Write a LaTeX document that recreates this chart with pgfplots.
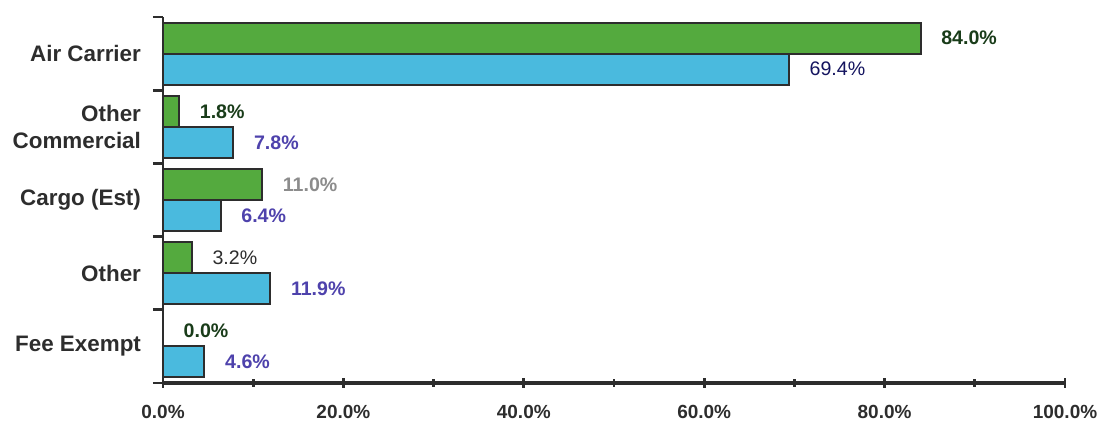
\documentclass[border=0pt]{standalone}
\usepackage{pgfplots}
\pgfplotsset{compat=1.18}
\usepackage{fontspec}
\setmainfont{Liberation Sans}
\definecolor{barg}{RGB}{84,170,62}
\definecolor{barc}{RGB}{74,186,222}
\definecolor{dkg}{RGB}{25,60,25}
\definecolor{navy}{RGB}{20,20,95}
\definecolor{purp}{RGB}{78,66,172}
\definecolor{axc}{RGB}{45,45,45}
\definecolor{lgray}{RGB}{140,140,140}
\begin{document}
\begin{tikzpicture}
\path[use as bounding box] (0,0) rectangle (557.5pt,216pt);
\begin{axis}[
  at={(81.5pt,24.5pt)}, anchor=south west,
  scale only axis, width=451pt, height=183pt,
  xmin=0, xmax=100, ymin=-0.5, ymax=4.5,
  xbar, bar width=15.5pt,
  axis lines*=left,
  x axis line style={axc, line width=2pt},
  y axis line style={axc, line width=1.4pt},
  xtick={0,20,...,100},
  xticklabels={0.0\%,20.0\%,40.0\%,60.0\%,80.0\%,100.0\%},
  minor xtick={10,30,...,90},
  xtick align=center,
  major tick length=5pt, minor tick length=4pt,
  tick style={axc, line width=1.4pt},
  xticklabel style={font=\bfseries\fontsize{9.5}{11}\selectfont, text=axc, yshift=-5pt},
  ytick={-0.5,0.5,...,4.5},
  yticklabels={},
  ytick align=outside,
  extra y ticks={0,1,2,3,4},
  extra y tick labels={Fee Exempt,Other,Cargo (Est),{Other\\Commercial},Air Carrier},
  extra y tick style={tick style={draw=none}},
  yticklabel style={align=right, font=\bfseries\fontsize{11.2}{13.5}\selectfont, text=axc, xshift=-2.5pt},
  point meta=explicit symbolic,
  nodes near coords,
  every node near coord/.append style={font=\bfseries\fontsize{9.8}{11}\selectfont, anchor=west, xshift=6.5pt},
  clip=false,
]
\addplot[fill=barg, draw=axc, line width=1pt, bar shift=7.75pt] coordinates {
  (84.0,4) [\textcolor{dkg}{84.0\%}]
  (1.8,3)  [\textcolor{dkg}{1.8\%}]
  (11.0,2) [\textcolor{lgray}{11.0\%}]
  (3.2,1)  [\textcolor{axc}{\mdseries 3.2\%}]
  (0.0,0)  [\textcolor{dkg}{0.0\%}]
};
\addplot[fill=barc, draw=axc, line width=1pt, bar shift=-7.75pt] coordinates {
  (69.4,4) [\textcolor{navy}{\mdseries 69.4\%}]
  (7.8,3)  [\textcolor{purp}{7.8\%}]
  (6.4,2)  [\textcolor{purp}{6.4\%}]
  (11.9,1) [\textcolor{purp}{11.9\%}]
  (4.6,0)  [\textcolor{purp}{4.6\%}]
};
\end{axis}
\end{tikzpicture}
\end{document}
